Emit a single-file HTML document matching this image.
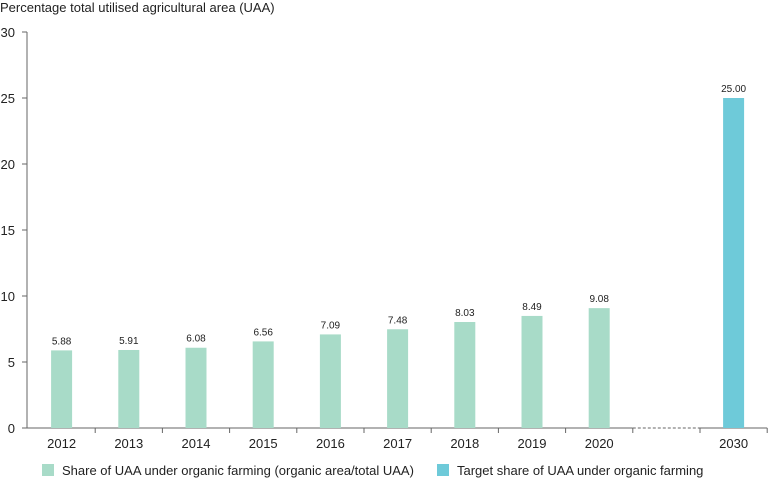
<!DOCTYPE html>
<html><head><meta charset="utf-8"><style>
body{margin:0;background:#fff;font-family:"Liberation Sans",sans-serif;}
svg text{font-family:"Liberation Sans",sans-serif;fill:#222;}
</style></head><body>
<svg id="chart" width="768" height="480" xmlns="http://www.w3.org/2000/svg">
<text x="0" y="12" font-size="13">Percentage total utilised agricultural area (UAA)</text>
<g id="grid"></g>
<g id="bars"></g>
<g>
<rect x="42" y="464" width="12" height="12" fill="#a8dbc8"/>
<text x="62" y="475" font-size="13">Share of UAA under organic farming (organic area/total UAA)</text>
<rect x="437" y="464" width="12" height="12" fill="#6ecad9"/>
<text x="457" y="475" font-size="13">Target share of UAA under organic farming</text>
</g>
</svg>
<script>
const categories = ["2012","2013","2014","2015","2016","2017","2018","2019","2020","","2030"];
const shareValues = [5.88,5.91,6.08,6.56,7.09,7.48,8.03,8.49,9.08,null,null];
const targetValues = [null,null,null,null,null,null,null,null,null,null,25.00];
const yTicks = [0,5,10,15,20,25,30];
const NS="http://www.w3.org/2000/svg";
const x0=28, slot=67.2, y0=428, yTop=32, yMax=30;
const y=v=>y0-(v/yMax)*(y0-yTop);
const xc=i=>x0+slot*(i+0.5);
const g=document.getElementById('grid'), b=document.getElementById('bars');
function el(t,a,p){const e=document.createElementNS(NS,t);for(const k in a)e.setAttribute(k,a[k]);p.appendChild(e);return e;}
const ya=el('line',{x1:27,x2:27,y1:yTop,y2:y0,stroke:'#666','stroke-width':1},g);


yTicks.forEach(v=>{
 const t=el('line',{x1:22,x2:27,y1:y(v),y2:y(v),stroke:'#666'},g);
 
 
 const l=el('text',{x:15,y:y(v)+5,'font-size':13,'text-anchor':'end'},g);
 l.textContent=v;
 
 
});
const dashIdx=9;
const xa1=el('line',{x1:x0-6,x2:x0+slot*dashIdx,y1:y0,y2:y0,stroke:'#666'},g);


const xd=el('line',{x1:x0+slot*dashIdx,x2:x0+slot*(dashIdx+1),y1:y0,y2:y0,stroke:'#666','stroke-dasharray':'3,2'},g);


const xa2=el('line',{x1:x0+slot*(dashIdx+1),x2:x0+slot*categories.length,y1:y0,y2:y0,stroke:'#666'},g);


for(let i=1;i<=categories.length;i++){
 const t=el('line',{x1:x0+slot*i,x2:x0+slot*i,y1:y0,y2:y0+5,stroke:'#666'},g);
 
 
}
categories.forEach((c,i)=>{
 if(c){const l=el('text',{x:xc(i),y:y0+20,'font-size':13,'text-anchor':'middle'},g);
 l.textContent=c;
 
 }
 [[shareValues,'#a8dbc8','bar-share-'],[targetValues,'#6ecad9','bar-target-']].forEach(([arr,col,nm])=>{
  const v=arr[i]; if(v==null)return;
  const r=el('rect',{x:xc(i)-10.5,y:y(v),width:21,height:y0-y(v),fill:col},b);
  
  
  const t=el('text',{x:xc(i),y:y(v)-6,'font-size':10,'text-anchor':'middle'},b);
  t.textContent=v.toFixed(2);
  
  
 });
});
</script>
</body></html>
